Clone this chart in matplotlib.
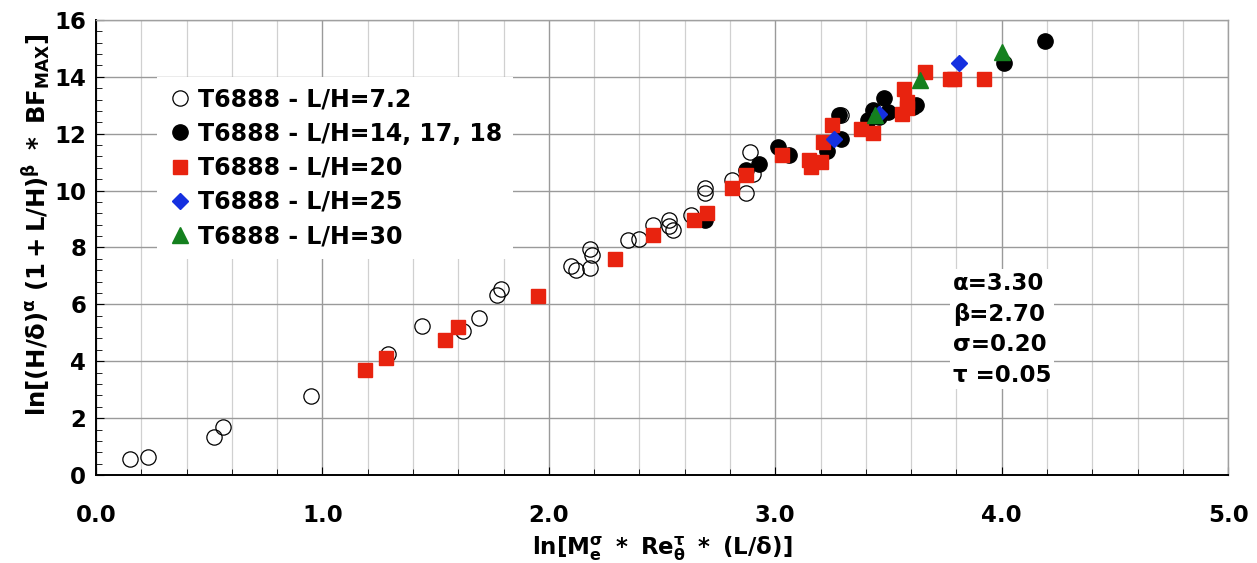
import numpy as np
import matplotlib
matplotlib.use("Agg")
import matplotlib.pyplot as plt
from matplotlib.ticker import MultipleLocator, FormatStrFormatter

plt.rcParams['font.family'] = 'DejaVu Sans'
plt.rcParams['font.weight'] = 'bold'
plt.rcParams['mathtext.fontset'] = 'dejavusans'

# L/H = 7.2 (open circles)
x_72 = [0.15, 0.23, 0.52, 0.56, 0.95, 1.29, 1.44, 1.62, 1.69, 1.77, 1.79,
        2.10, 2.12, 2.18, 2.18, 2.19, 2.35, 2.40, 2.46, 2.53, 2.53, 2.55,
        2.63, 2.69, 2.69, 2.81, 2.87, 2.90, 2.89, 3.29]
y_72 = [0.56, 0.62, 1.32, 1.68, 2.79, 4.24, 5.25, 5.07, 5.51, 6.32, 6.55,
        7.36, 7.22, 7.27, 7.94, 7.74, 8.27, 8.30, 8.80, 8.97, 8.74, 8.62,
        9.15, 10.08, 9.91, 10.37, 9.91, 10.60, 11.35, 12.65]

# L/H = 14, 17, 18 (filled black circles)
x_14 = [2.69, 2.87, 2.93, 3.01, 3.06, 3.23, 3.28, 3.29, 3.41, 3.43, 3.46,
        3.48, 3.50, 3.61, 3.62, 4.01, 4.19]
y_14 = [8.98, 10.71, 10.94, 11.53, 11.24, 11.41, 12.65, 11.82, 12.47, 12.82, 12.60,
        13.24, 12.75, 12.94, 13.02, 14.47, 15.27]

# L/H = 20 (red squares)
x_20 = [1.19, 1.28, 1.54, 1.60, 1.95, 2.29, 2.46, 2.64, 2.70, 2.81, 2.87,
        3.03, 3.15, 3.16, 3.20, 3.21, 3.25, 3.38, 3.43, 3.56, 3.58, 3.58,
        3.57, 3.66, 3.77, 3.79, 3.92]
y_20 = [3.68, 4.12, 4.73, 5.22, 6.31, 7.60, 8.44, 8.97, 9.20, 10.08, 10.55,
        11.24, 11.06, 10.82, 11.00, 11.71, 12.29, 12.18, 12.02, 12.70, 12.90, 13.10,
        13.59, 14.18, 13.91, 13.94, 13.91]

# L/H = 25 (blue diamonds)
x_25 = [3.26, 3.46, 3.81]
y_25 = [11.82, 12.70, 14.49]

# L/H = 30 (green triangles)
x_30 = [3.44, 3.64, 4.00]
y_30 = [12.65, 13.88, 14.88]

labels = ['T6888 - L/H=7.2', 'T6888 - L/H=14, 17, 18', 'T6888 - L/H=20',
          'T6888 - L/H=25', 'T6888 - L/H=30']

fig = plt.figure(figsize=(12.57, 5.63), dpi=100)
ax = fig.add_axes([0.0764, 0.1563, 0.9006, 0.8082])

ax.plot(x_72, y_72, 'o', ms=11, mfc='none', mec='black', mew=0.9, label=labels[0], zorder=3)
ax.plot(x_14, y_14, 'o', ms=11, mfc='black', mec='black', label=labels[1], zorder=4)
ax.plot(x_20, y_20, 's', ms=9.5, mfc='#e8230f', mec='#e8230f', label=labels[2], zorder=5)
ax.plot(x_25, y_25, 'D', ms=8.5, mfc='#1530e0', mec='#1530e0', label=labels[3], zorder=6)
ax.plot(x_30, y_30, '^', ms=11, mfc='#14801e', mec='#14801e', label=labels[4], zorder=7)

ax.set_xlim(0, 5)
ax.set_ylim(0, 16)
ax.xaxis.set_major_locator(MultipleLocator(1.0))
ax.xaxis.set_minor_locator(MultipleLocator(0.2))
ax.yaxis.set_major_locator(MultipleLocator(2))
ax.yaxis.set_minor_locator(MultipleLocator(0.4))
ax.xaxis.set_major_formatter(FormatStrFormatter('%.1f'))

ax.grid(which='major', color='#9a9a9a', lw=1.0, zorder=0)
ax.grid(which='minor', axis='x', color='#d0d0d0', lw=0.9, zorder=0)
ax.set_axisbelow(True)

ax.tick_params(which='both', direction='in', labelsize=16.5)
ax.tick_params(which='major', length=6)
ax.tick_params(which='minor', length=4)
ax.tick_params(axis='x', pad=21)
ax.tick_params(axis='y', pad=7)
for lab in ax.get_xticklabels() + ax.get_yticklabels():
    lab.set_fontweight('bold')

for s in ['left', 'bottom']:
    ax.spines[s].set_color('black')
    ax.spines[s].set_linewidth(1.4)
for s in ['top', 'right']:
    ax.spines[s].set_color('#a0a0a0')
    ax.spines[s].set_linewidth(1.0)

ax.set_xlabel(r'$\mathbf{ln[M_e^{\sigma}\ *\ Re_{\theta}^{\tau}\ *\ (L/\delta)]}$',
              fontsize=16.5, labelpad=5)
ax.set_ylabel(r'$\mathbf{ln[(H/\delta)^{\alpha}\ (1+L/H)^{\beta}\ *\ BF_{MAX}]}$',
              fontsize=17.5)
ax.yaxis.set_label_coords(-0.038, 0.55)

leg = ax.legend(loc='upper left', bbox_to_anchor=(0.054, 0.875), fontsize=17,
                frameon=True, fancybox=False, edgecolor='none', facecolor='white',
                framealpha=1.0, borderaxespad=0, borderpad=0.45, handlelength=1.0,
                handletextpad=0.3, labelspacing=0.43, numpoints=1)
leg.set_zorder(10)

ax.text(0.757, 0.446, 'α=3.30\nβ=2.70\nσ=0.20\nτ =0.05', transform=ax.transAxes,
        fontsize=16.5, fontweight='bold', va='top', ha='left', linespacing=1.42,
        bbox=dict(facecolor='white', edgecolor='none', pad=2), zorder=10)

fig.savefig('out.png', dpi=100)
